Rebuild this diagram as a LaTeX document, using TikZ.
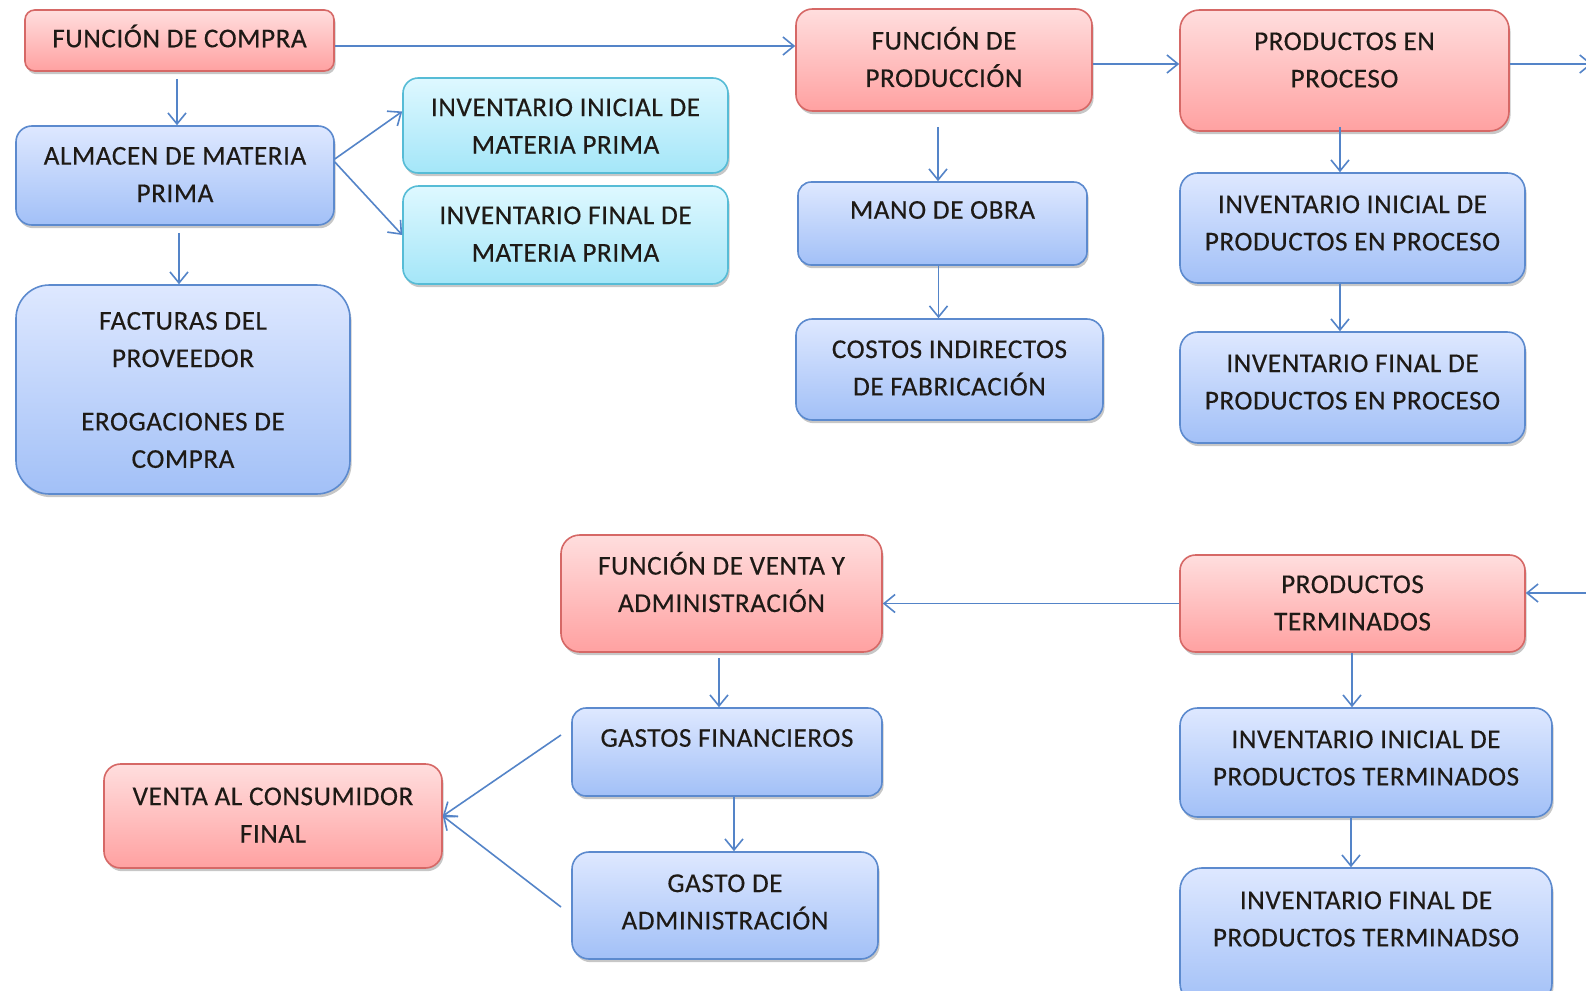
\documentclass[tikz,border=0pt]{standalone}
\usepackage{fontspec}
\setmainfont{Carlito}[LetterSpace=2,FakeBold=0.35]
\usetikzlibrary{arrows.meta,shadows}

\definecolor{rojoA}{RGB}{255,222,222}
\definecolor{rojoB}{RGB}{255,161,161}
\definecolor{rojoL}{RGB}{214,104,102}
\definecolor{azulA}{RGB}{222,232,255}
\definecolor{azulB}{RGB}{162,192,247}
\definecolor{azulL}{RGB}{92,138,206}
\definecolor{cianA}{RGB}{222,248,255}
\definecolor{cianB}{RGB}{164,230,248}
\definecolor{cianL}{RGB}{86,188,214}
\definecolor{linea}{RGB}{84,132,200}
\definecolor{texto}{RGB}{30,26,22}

\tikzset{
  caja/.style={draw, line width=0.8pt,
    drop shadow={shadow xshift=0.8pt, shadow yshift=-1.6pt, opacity=0.22, fill=black}},
  roja/.style={caja, draw=rojoL, top color=rojoA, bottom color=rojoB},
  azul/.style={caja, draw=azulL, top color=azulA, bottom color=azulB},
  cian/.style={caja, draw=cianL, top color=cianA, bottom color=cianB},
  txt/.style={align=center, font=\fontsize{13.6}{18.7}\selectfont, text=texto, inner sep=0pt},
  flecha/.style={draw=linea, line width=0.8pt, -{Straight Barb[length=5.5pt,width=9pt]}},
}

% box: name, style, x1, y1, x2, y2, text centre y, text
\newcommand\caja[8]{%
  \pgfmathsetmacro\cajw{(#5-#3)*0.5}%
  \pgfmathsetmacro\cajh{(#6-#4)*0.5}%
  \pgfmathsetmacro\cajr{0.16*min(\cajw,\cajh)}%
  \node[#2, minimum width=\cajw pt, minimum height=\cajh pt, inner sep=0pt,
        rounded corners=\cajr pt] (#1) at ({(#3+#5)/2},{(#4+#6)/2}) {};
  \node[txt] (#1-t) at ({(#3+#5)/2},#7) {#8};
}

\begin{document}
\begin{tikzpicture}[x=0.5pt,y=-0.5pt]
\useasboundingbox (0,0) rectangle (1586,991);
\clip (0,0) rectangle (1586,991);
\fill[white] (0,0) rectangle (1586,991);

% purchasing
\caja{compra}{roja}{25}{10}{334}{71}{36}{FUNCIÓN DE COMPRA}
\caja{almacen}{azul}{16}{126}{334}{225}{174.5}{ALMACEN DE MATERIA\\PRIMA}
\caja{facturas}{azul}{16}{285}{350}{494}{390}{FACTURAS DEL\\PROVEEDOR\\[13pt]EROGACIONES DE\\COMPRA}
\caja{iniMP}{cian}{403}{78}{728}{173}{126}{INVENTARIO INICIAL DE\\MATERIA PRIMA}
\caja{finMP}{cian}{403}{186}{728}{284}{234}{INVENTARIO FINAL DE\\MATERIA PRIMA}

% production
\caja{produccion}{roja}{796}{9}{1092}{111}{57}{FUNCIÓN DE\\PRODUCCIÓN}
\caja{mano}{azul}{798}{182}{1087}{265}{210}{MANO DE OBRA}
\caja{costos}{azul}{796}{319}{1103}{420}{368}{COSTOS INDIRECTOS\\DE FABRICACIÓN}

% work in process
\caja{proceso}{roja}{1180}{10}{1509}{131}{60}{PRODUCTOS EN\\PROCESO}
\caja{iniPP}{azul}{1180}{173}{1525}{283}{223}{INVENTARIO INICIAL DE\\PRODUCTOS EN PROCESO}
\caja{finPP}{azul}{1180}{332}{1525}{443}{382}{INVENTARIO FINAL DE\\PRODUCTOS EN PROCESO}

% finished goods
\caja{terminados}{roja}{1180}{555}{1525}{652}{603}{PRODUCTOS\\TERMINADOS}
\caja{iniPT}{azul}{1180}{708}{1552}{817}{758}{INVENTARIO INICIAL DE\\PRODUCTOS TERMINADOS}
\caja{finPT}{azul}{1180}{868}{1552}{1005}{919}{INVENTARIO FINAL DE\\PRODUCTOS TERMINADSO}

% sales and administration
\caja{venta}{roja}{561}{535}{882}{652}{582}{FUNCIÓN DE VENTA Y\\ADMINISTRACIÓN}
\caja{gastosF}{azul}{572}{708}{882}{796}{738}{GASTOS FINANCIEROS}
\caja{gastoA}{azul}{572}{852}{878}{959}{902}{GASTO DE\\ADMINISTRACIÓN}
\caja{consumidor}{roja}{104}{764}{442}{868}{815}{VENTA AL CONSUMIDOR\\FINAL}

% free ends
\coordinate (salidaPP) at (1592,64);
\coordinate (entradaPT) at (1592,593);
\coordinate (desdeGF) at (561,735);
\coordinate (desdeGA) at (561,907);

% connectors
\path[flecha] ([yshift=-2.75pt]compra.east) -- ([yshift=-2.75pt]compra.east -| produccion.west);
\path[flecha, shorten <=3.5pt] ([xshift=-1.25pt]compra.south) -- ([xshift=-1.25pt]compra.south |- almacen.north);
\path[flecha] ([yshift=8.25pt]almacen.east) -- ([yshift=7pt]iniMP.west);
\path[flecha] ([yshift=6.75pt]almacen.east) -- (finMP.west);
\path[flecha, shorten <=3.5pt] ([xshift=2pt]almacen.south) -- ([xshift=2pt]almacen.south |- facturas.north);

\path[flecha] ([yshift=-2pt]produccion.east) -- ([yshift=-2pt]produccion.east -| proceso.west);
\path[flecha, shorten <=7.5pt] ([xshift=-3pt]produccion.south) -- ([xshift=-3pt]produccion.south |- mano.north);
\path[flecha] ([xshift=-2pt]mano.south) -- ([xshift=-2pt]mano.south |- costos.north);

\path[flecha] ([yshift=3.25pt]proceso.east) -- (salidaPP);
\path[flecha, shorten <=-2.5pt] ([xshift=-2.25pt]proceso.south) -- ([xshift=-2.25pt]proceso.south |- iniPP.north);
\path[flecha] ([xshift=-6.25pt]iniPP.south) -- ([xshift=-6.25pt]iniPP.south |- finPP.north);

\path[flecha] (entradaPT) -- (entradaPT -| terminados.east);
\path[flecha] (terminados.west) -- (terminados.west -| venta.east);
\path[flecha] ([xshift=-0.25pt]terminados.south) -- ([xshift=-0.25pt]terminados.south |- iniPT.north);
\path[flecha] ([xshift=-7.5pt]iniPT.south) -- ([xshift=-7.5pt]iniPT.south |- finPT.north);

\path[flecha, shorten <=2.5pt] ([xshift=-1.25pt]venta.south) -- ([xshift=-1.25pt]venta.south |- gastosF.north);
\path[flecha] ([xshift=3.5pt]gastosF.south) -- ([xshift=3.5pt]gastosF.south |- gastoA.north);
\path[flecha] (desdeGF) -- (consumidor.east);
\path[flecha] (desdeGA) -- (consumidor.east);
\end{tikzpicture}
\end{document}
